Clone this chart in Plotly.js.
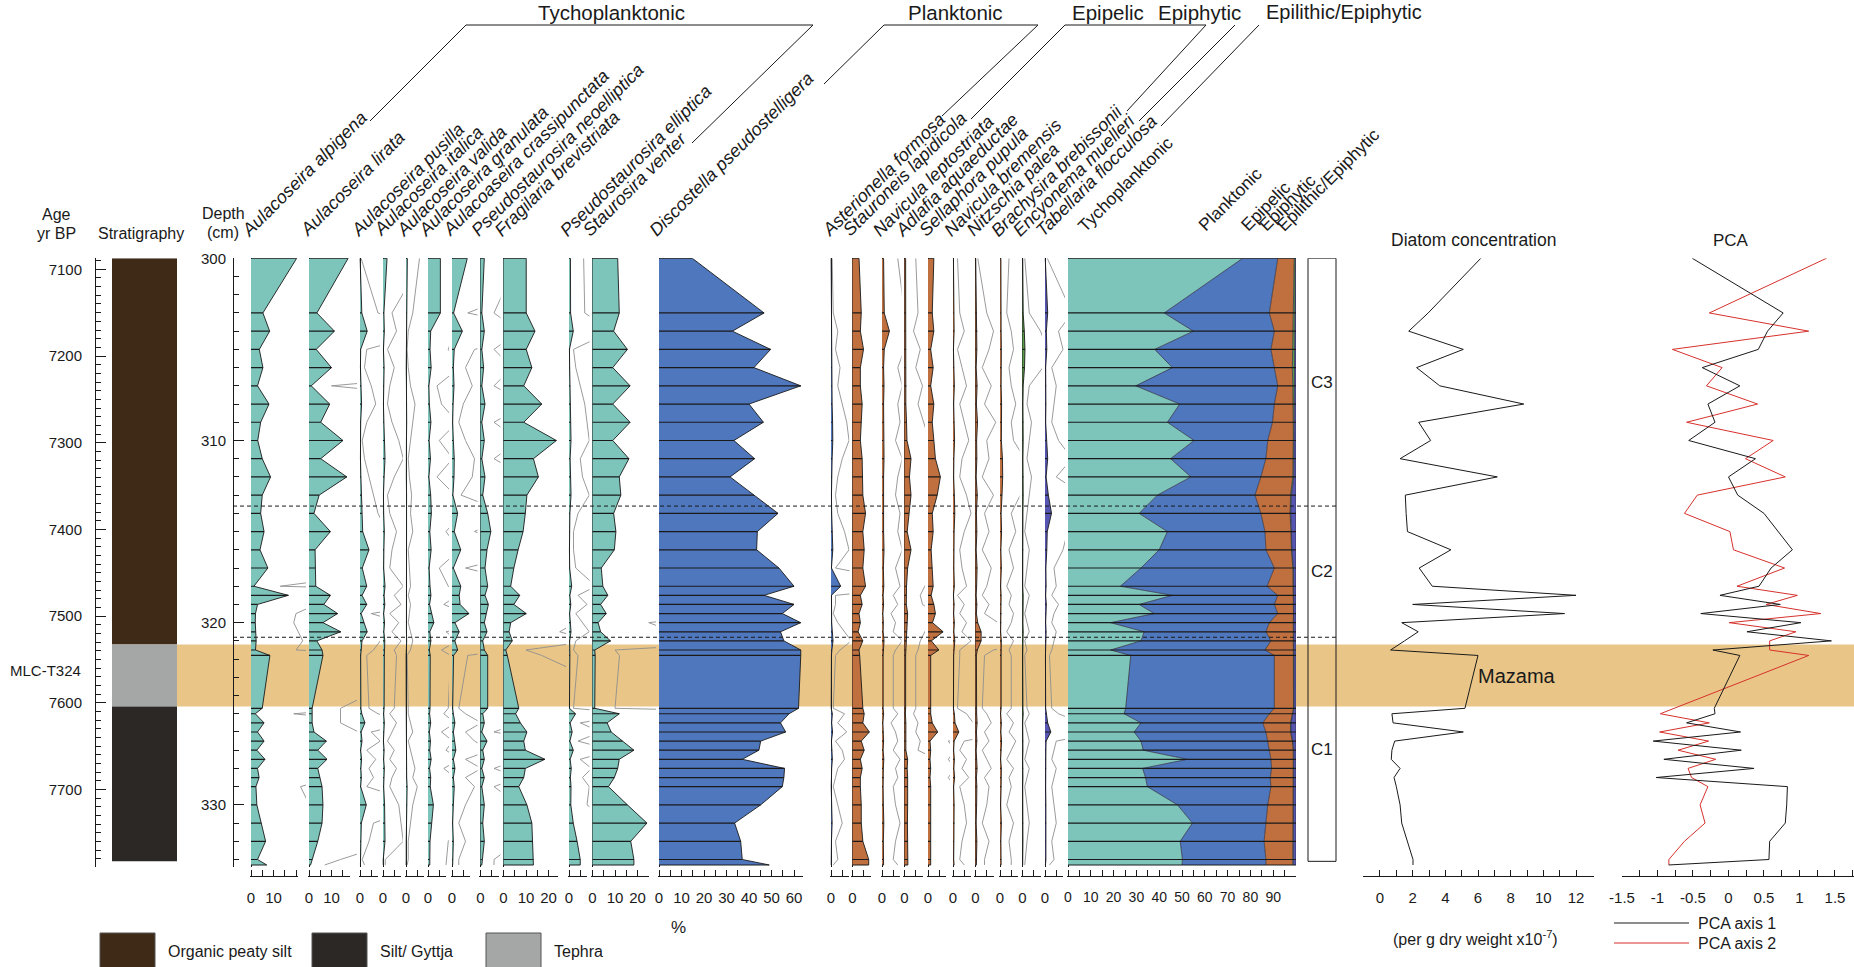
<!DOCTYPE html>
<html><head><meta charset="utf-8">
<script src="https://cdn.plot.ly/plotly-3.0.1.min.js"></script>
<style>html,body{margin:0;padding:0;background:#fff;}</style>
</head><body>
<div id="chart" style="width:1854px;height:967px"></div>
<script>
// ---------------- DATA ----------------
const depth = [300, 303, 304, 305, 306, 307, 308, 309, 310, 311,
  312, 313, 314, 315, 316, 317, 318, 318.5, 319, 319.5,
  320, 320.5, 321, 321.5, 321.8, 324.7, 325, 325.5, 326, 326.5,
  327, 327.5, 328, 328.5, 329, 330, 331, 332, 333, 333.3];

const alpigena = [20.3, 5.3, 8.3, 3.7, 5.3, 2.9, 8.0, 4.3, 3.0, 5.0, 8.7, 5.0, 4.3, 5.8, 4.0, 7.5, 1.3, 16.6, 2.9, 2.0, 1.9, 2.1, 2.3, 2.0, 8.4, 5.0, 1.9, 5.8, 2.9, 5.8, 2.6, 6.2, 2.9, 3.6, 2.2, 2.6, 4.6, 6.5, 2.9, 7.0];
const lirata = [17.4, 3.5, 11.3, 3.2, 10.0, 1.0, 9.2, 5.2, 15.1, 5.2, 16.8, 4.5, 2.2, 9.5, 2.7, 2.7, 3.0, 9.5, 6.6, 12.7, 6.2, 14.1, 3.5, 5.8, 6.2, 1.4, 1.4, 1.4, 2.2, 7.7, 3.9, 8.0, 3.9, 4.8, 5.8, 6.2, 5.8, 3.9, 1.4, 0.7];
const pusilla = [0.05, 0.8, 3.2, 0.3, 0.2, 0.5, 0.7, 0.3, 0.1, 0.2, 0.4, 0.6, 0.8, 1.2, 4.0, 1.0, 3.0, 0.9, 3.0, 0.5, 1.8, 3.2, 0.9, 0.6, 0.3, 0.4, 0.8, 2.2, 0.5, 0.9, 0.3, 0.7, 0.4, 0.6, 0.3, 2.8, 0.6, 0.4, 0.1, 0.2];
const italica = [1.8, 0.4, 0.6, 0.2, 0.5, 0.3, 0.2, 0.4, 0.7, 0.9, 0.5, 0.2, 0.3, 0.6, 0.4, 0.3, 0.9, 0.5, 0.8, 0.3, 0.7, 0.4, 0.8, 0.5, 0.6, 0.5, 0.3, 0.6, 0.4, 0.2, 0.5, 0.3, 0.6, 0.4, 0.3, 0.7, 0.8, 0.9, 0.1, 0.1];
const valida = [0.6, 0.3, 0.1, 0.05, 0.1, 0.2, 0.4, 0.3, 0.2, 0.1, 0.15, 0.25, 0.2, 0.3, 0.1, 0.15, 0.2, 0.1, 0.2, 0.15, 0.1, 0.2, 0.3, 0.2, 0.05, 0.1, 0.1, 0.2, 0.3, 0.1, 0.2, 0.3, 0.4, 0.3, 0.5, 0.3, 0.2, 0.1, 0.1, 0.05];
const granulata = [5.5, 5.5, 1.2, 0.9, 1.4, 0.4, 0.6, 1.3, 0.5, 1.1, 0.4, 1.2, 1.5, 0.8, 1.4, 0.5, 0.9, 1.3, 0.7, 1.5, 2.6, 0.8, 1.3, 0.6, 1.0, 0.9, 0.7, 1.2, 0.6, 1.1, 0.8, 1.4, 0.7, 1.2, 1.0, 2.4, 1.5, 0.9, 0.8, 0.8];
const crassipunctata = [6.8, 0.7, 4.6, 1.0, 0.6, 0.9, 0.5, 0.3, 0.6, 1.0, 0.9, 0.4, 2.5, 1.0, 3.9, 0.6, 3.9, 3.2, 3.6, 7.5, 1.3, 3.2, 1.3, 2.5, 0.7, 0.3, 0.6, 1.3, 0.6, 1.0, 1.7, 0.6, 1.3, 0.6, 1.0, 0.6, 0.3, 0.6, 0.3, 0.3];
const neoelliptica = [1.7, 0.6, 1.7, 0.6, 1.4, 0.6, 2.0, 0.6, 1.7, 0.6, 2.0, 1.0, 3.2, 4.6, 2.9, 2.0, 3.2, 2.0, 3.5, 2.5, 1.7, 2.9, 1.0, 1.7, 3.2, 3.2, 1.0, 1.7, 0.6, 2.9, 1.0, 1.7, 0.6, 1.7, 0.6, 1.7, 1.0, 1.7, 0.6, 0.6];
const brevistriata = [10.1, 10.1, 14.0, 10.1, 12.6, 9.0, 17.0, 9.0, 23.5, 13.3, 15.5, 10.4, 9.7, 8.7, 6.5, 4.6, 3.2, 7.2, 4.6, 10.1, 3.2, 2.5, 3.9, 1.0, 1.7, 6.8, 5.4, 7.5, 10.4, 9.0, 9.7, 18.4, 9.7, 9.0, 6.8, 10.4, 12.6, 13.0, 13.3, 13.3];
const elliptica = [0.65, 0.7, 1.9, 0.2, 0.3, 0.5, 0.7, 0.8, 0.9, 0.5, 0.6, 0.9, 0.4, 0.2, 0.2, 0.3, 1.2, 0.4, 0.8, 0.3, 0.6, 0.9, 0.3, 0.2, 0.4, 0.2, 2.9, 0.5, 1.4, 0.4, 1.9, 0.5, 1.0, 0.6, 0.9, 0.8, 1.9, 3.6, 5.0, 5.0];
const venter = [11.2, 11.9, 9.4, 15.5, 9.0, 16.7, 9.0, 16.7, 9.0, 16.2, 11.9, 12.6, 9.4, 10.4, 9.7, 3.9, 4.6, 6.8, 3.6, 6.1, 2.5, 3.6, 8.0, 1.0, 1.2, 1.0, 11.9, 6.5, 8.3, 13.3, 18.4, 11.9, 11.2, 9.7, 7.1, 15.5, 24.2, 17.0, 18.4, 18.4];
const discostella = [14.8, 46.7, 32.6, 49.6, 42.2, 63.0, 40.0, 46.4, 33.3, 42.5, 31.6, 42.2, 52.9, 43.7, 43.4, 53.3, 60.0, 46.7, 60.0, 54.8, 63.0, 54.0, 55.5, 63.0, 63.0, 62.0, 57.8, 54.0, 56.3, 45.2, 44.4, 37.0, 55.8, 55.5, 54.8, 45.2, 33.6, 36.3, 37.0, 49.0];
const asterionella = [0.05, 0.1, 0.3, 0.2, 0.4, 0.3, 0.5, 0.7, 0.8, 0.5, 0.3, 0.2, 0.3, 0.6, 0.8, 0.2, 4.3, 0.2, 0.2, 0.1, 0.3, 0.6, 0.9, 0.4, 0.2, 0.1, 0.6, 0.3, 0.7, 0.2, 0.5, 0.6, 0.3, 0.2, 0.1, 0.3, 0.5, 0.2, 0.3, 0.1];
const stauroneis = [2.9, 3.9, 3.5, 4.9, 3.5, 3.5, 4.3, 3.9, 3.5, 4.3, 4.6, 4.6, 5.8, 4.6, 5.2, 4.6, 5.8, 3.5, 4.3, 2.9, 3.5, 2.5, 4.6, 2.9, 3.2, 4.6, 5.2, 4.6, 7.5, 3.9, 5.2, 3.5, 4.3, 3.5, 3.5, 3.9, 3.9, 4.6, 7.2, 7.2];
const leptostriata = [0.7, 1.0, 3.3, 1.0, 0.7, 0.9, 0.7, 0.8, 0.6, 0.9, 0.7, 0.6, 0.8, 0.7, 0.9, 0.6, 0.8, 0.5, 0.7, 0.4, 0.6, 0.5, 0.9, 0.6, 0.5, 0.5, 0.7, 0.4, 0.6, 0.7, 0.5, 0.8, 0.6, 0.7, 0.5, 0.6, 0.8, 0.6, 0.5, 0.7];
const adlafia = [0.5, 0.6, 0.4, 0.7, 0.5, 0.8, 0.6, 0.9, 1.1, 2.9, 2.2, 2.9, 1.9, 1.2, 2.9, 1.4, 0.9, 0.7, 0.8, 1.4, 1.2, 0.9, 0.7, 0.6, 0.5, 0.5, 0.4, 0.6, 0.5, 0.7, 0.6, 1.4, 1.2, 1.4, 1.3, 1.4, 1.3, 1.4, 1.5, 1.5];
const sellaphora = [2.6, 1.9, 2.6, 1.2, 2.3, 1.2, 2.6, 1.9, 2.6, 3.3, 5.5, 4.1, 1.9, 2.3, 1.4, 1.9, 2.3, 1.4, 2.6, 3.3, 2.0, 6.7, 1.5, 4.8, 1.2, 1.2, 1.2, 1.9, 4.3, 0.9, 1.2, 0.9, 1.2, 0.9, 1.2, 1.2, 1.2, 1.2, 1.2, 1.2];
const bremensis = [0.2, 0.3, 0.5, 0.2, 0.4, 0.6, 0.3, 0.5, 0.7, 0.4, 0.3, 0.6, 0.8, 0.5, 0.3, 0.4, 0.6, 0.2, 0.5, 0.3, 0.6, 0.4, 0.8, 0.3, 0.3, 0.2, 0.6, 0.9, 2.6, 0.5, 0.3, 0.6, 0.4, 0.7, 0.3, 0.5, 0.6, 0.4, 0.3, 0.5];
const palea = [0.1, 0.5, 0.8, 0.6, 0.3, 0.7, 0.4, 0.9, 0.5, 0.6, 0.3, 0.8, 0.4, 0.6, 0.3, 0.7, 0.5, 0.3, 0.6, 0.4, 1.0, 2.5, 2.5, 0.8, 0.4, 0.3, 0.5, 0.7, 0.4, 0.6, 0.3, 0.5, 0.7, 0.4, 0.6, 0.5, 0.3, 0.6, 0.4, 0.4];
const brachysira = [0.4, 0.3, 0.5, 0.6, 0.4, 0.5, 0.7, 0.5, 0.6, 1.1, 1.2, 0.9, 0.5, 0.7, 0.4, 0.6, 0.3, 0.5, 0.4, 0.6, 0.5, 0.3, 0.6, 0.4, 0.5, 0.5, 0.3, 0.6, 0.4, 0.7, 0.5, 0.3, 0.6, 0.4, 0.5, 0.3, 0.6, 0.4, 0.5, 0.5];
const encyonema = [0.1, 0.3, 0.8, 1.1, 0.9, 0.3, 0.2, 0.4, 0.3, 0.2, 0.4, 0.3, 0.2, 0.1, 0.3, 0.2, 0.1, 0.3, 0.2, 0.1, 0.2, 0.3, 0.1, 0.2, 0.1, 0.2, 0.3, 0.1, 0.2, 0.3, 0.2, 0.1, 0.3, 0.2, 0.1, 0.2, 0.3, 0.2, 0.1, 0.1];
const tabellaria = [0.1, 1.2, 0.6, 0.8, 0.3, 0.5, 0.4, 0.3, 0.6, 1.2, 0.5, 1.5, 2.9, 1.0, 0.8, 0.4, 0.5, 0.3, 0.6, 0.4, 0.3, 0.5, 0.4, 0.3, 0.2, 0.3, 0.6, 1.2, 2.6, 0.5, 0.4, 0.3, 0.5, 0.4, 0.3, 0.4, 0.5, 0.3, 0.4, 0.2];

// ecological groups (%)
const tycho = [76.6, 42.2, 55.0, 38.0, 45.8, 29.7, 49.0, 43.6, 55.3, 45.0, 53.9, 39.2, 31.2, 43.6, 40.0, 32.0, 23.0, 45.8, 31.2, 37.8, 18.7, 33.4, 32.0, 18.7, 27.5, 25.3, 24.6, 32.0, 29.0, 32.0, 33.0, 52.4, 32.7, 34.0, 34.8, 48.0, 54.6, 49.2, 50.2, 50.0];
const plank = [15.4, 46.1, 35.5, 51.0, 44.7, 62.3, 41.5, 46.1, 32.3, 41.8, 30.7, 42.8, 53.4, 42.8, 46.8, 58.5, 64.3, 46.2, 59.3, 54.2, 69.6, 53.4, 57.0, 67.7, 63.0, 65.2, 63.7, 53.4, 57.8, 55.6, 55.3, 36.6, 56.6, 54.7, 54.2, 39.6, 32.2, 36.8, 36.6, 36.8];
const epipelic = [7.2, 10.6, 8.1, 9.4, 7.9, 6.6, 8.3, 9.1, 11.2, 11.8, 14.0, 15.6, 12.8, 11.4, 11.2, 8.1, 11.5, 6.8, 8.3, 6.9, 10.5, 12.0, 9.8, 12.4, 8.4, 8.4, 10.1, 12.2, 10.8, 10.8, 10.5, 9.8, 9.5, 10.1, 9.8, 11.2, 12.0, 12.6, 11.8, 11.8];
const epiphytic = [0.5, 0.6, 0.9, 1.1, 1.0, 0.8, 0.6, 0.5, 0.5, 0.6, 0.4, 0.4, 0.3, 0.2, 0.2, 0.3, 0.2, 0.2, 0.2, 0.2, 0.2, 0.2, 0.2, 0.2, 0.2, 0.2, 0.2, 0.2, 0.2, 0.2, 0.2, 0.2, 0.2, 0.2, 0.2, 0.2, 0.2, 0.2, 0.2, 0.2];
const epilithic = [0.3, 0.5, 0.5, 0.5, 0.6, 0.6, 0.6, 0.7, 0.7, 0.8, 1.0, 2.0, 2.3, 2.0, 1.8, 1.1, 1.0, 1.0, 1.0, 0.9, 1.0, 1.0, 1.0, 1.0, 0.9, 0.9, 1.4, 2.2, 2.2, 1.4, 1.0, 1.0, 1.0, 1.0, 1.0, 1.0, 1.0, 1.2, 1.2, 1.2];

// diatom concentration (per g dry weight x10^-7) and PCA scores
const conc = [6.17, 2.95, 1.76, 5.1, 2.24, 3.66, 8.8, 2.37, 3.1, 1.23, 7.18, 1.55, 1.6, 1.68, 4.34, 2.4, 3.2, 12.0, 2.0, 11.3, 1.33, 2.34, 1.5, 0.65, 6.0, 5.2, 0.73, 0.8, 5.1, 0.9, 0.73, 0.69, 1.23, 0.86, 1.0, 1.23, 1.33, 1.66, 2.02, 2.02];
const pca1 = [-0.51, 0.77, 0.55, 0.42, -0.37, 0.16, -0.29, -0.19, -0.56, 0.38, 0.0, 0.13, 0.5, 0.7, 0.9, 0.6, 0.43, -0.12, 0.73, -0.39, 1.02, 0.26, 1.45, -0.22, 0.16, -0.2, -0.19, -0.59, 0.17, -1.06, 0.18, -0.91, 0.36, -1.02, 0.83, 0.82, 0.8, 0.58, 0.57, -0.84];
const pca2 = [1.38, -0.27, 1.13, -0.79, -0.09, -0.31, 0.41, -0.59, 0.63, 0.24, 0.8, -0.44, -0.62, 0.02, 0.07, 0.79, 0.12, 0.97, 0.53, 1.3, 0.01, 0.95, 0.58, 0.58, 1.13, -0.79, -0.96, -0.27, -0.97, -0.28, -0.71, -0.18, -0.57, -0.52, -0.29, -0.4, -0.33, -0.62, -0.84, -0.84];

// stratigraphy, tephra, zones
const stratNames = ['Organic peaty silt', 'Tephra', 'Silt/ Gyttja'];
const stratTop = [300, 321.2, 324.6];
const stratBase = [321.2, 324.6, 333.1];
const stratColors = ['#3e2a16', '#a5a7a7', '#2b2826'];
const tephra = [321.2, 324.6];
const tephraName = 'Mazama';
const tephraSample = 'MLC-T324';
const zoneNames = ['C3', 'C2', 'C1'];
const zoneBounds = [300, 313.6, 320.8, 333.1];
const pcaTickVals = [-1.5, -1.25, -1, -0.75, -0.5, -0.25, 0, 0.25, 0.5, 0.75, 1, 1.25, 1.5, 1.75];
const pcaTickText = ['-1.5', '', '-1', '', '-0.5', '', '0', '', '0.5', '', '1', '', '1.5', ''];
const groupNames = ['Tychoplanktonic', 'Planktonic', 'Epipelic', 'Epiphytic', 'Epilithic/Epiphytic'];

// ---------------- STYLE / LAYOUT ----------------
const W = 1854, H = 967;
const PX = x => x / W, PY = y => 1 - y / H;
const FONT = 'Liberation Sans, Arial, Helvetica, sans-serif';
const INK = '#1a1a1a';
const TEAL = '#7dc4bb', BLUE = '#4f77be', BROWN = '#c0703e', GREEN = '#5a9b48', PURPLE = '#5656b2';
const K = 2.25, KC = 2.28;   // px per percent
const AXIS_Y = PY(876);
const EXAG = 10;

const panels = [
  {name: 'Aulacoseira alpigena', data: alpigena, color: TEAL, zero: 251, vmax: 21, tv: [0,5,10,15,20], tt: ['0','','10','','']},
  {name: 'Aulacoseira lirata', data: lirata, color: TEAL, zero: 309, vmax: 18, tv: [0,5,10,15], tt: ['0','','10','']},
  {name: 'Aulacoseira pusilla', data: pusilla, color: TEAL, zero: 360, vmax: 8},
  {name: 'Aulacoseira italica', data: italica, color: TEAL, zero: 383, vmax: 8},
  {name: 'Aulacoseira valida', data: valida, color: TEAL, zero: 406, vmax: 8},
  {name: 'Aulacoseira granulata', data: granulata, color: TEAL, zero: 428, vmax: 8},
  {name: 'Aulacoaseira crassipunctata', data: crassipunctata, color: TEAL, zero: 452, vmax: 8},
  {name: 'Pseudostaurosira neoelliptica', data: neoelliptica, color: TEAL, zero: 480.5, vmax: 8},
  {name: 'Fragilaria brevistriata', data: brevistriata, color: TEAL, zero: 503.5, vmax: 24, tv: [0,5,10,15,20], tt: ['0','','10','','20']},
  {name: 'Pseudostaurosira elliptica', data: elliptica, color: TEAL, zero: 569, vmax: 8},
  {name: 'Staurosira venter', data: venter, color: TEAL, zero: 592.5, vmax: 25, tv: [0,5,10,15,20,25], tt: ['0','','10','','20','']},
  {name: 'Discostella pseudostelligera', data: discostella, color: BLUE, zero: 659, vmax: 64, tv: [0,5,10,15,20,25,30,35,40,45,50,55,60], tt: ['0','','10','','20','','30','','40','','50','','60']},
  {name: 'Asterionella formosa', data: asterionella, color: BLUE, zero: 831, vmax: 8},
  {name: 'Stauroneis lapidicola', data: stauroneis, color: BROWN, zero: 852.5, vmax: 8},
  {name: 'Navicula leptostriata', data: leptostriata, color: BROWN, zero: 882, vmax: 8},
  {name: 'Adlafia aquaeductae', data: adlafia, color: BROWN, zero: 904.5, vmax: 8},
  {name: 'Sellaphora pupula', data: sellaphora, color: BROWN, zero: 928, vmax: 8},
  {name: 'Navicula bremensis', data: bremensis, color: BROWN, zero: 953, vmax: 8},
  {name: 'Nitzschia palea', data: palea, color: BROWN, zero: 975.5, vmax: 8},
  {name: 'Brachysira brebissonii', data: brachysira, color: BROWN, zero: 1000, vmax: 8},
  {name: 'Encyonema muelleri', data: encyonema, color: GREEN, zero: 1022.5, vmax: 8},
  {name: 'Tabellaria flocculosa', data: tabellaria, color: PURPLE, zero: 1045, vmax: 8}
];
const CUM_ZERO = 1068;

const layout = {
  width: W, height: H, margin: {l: 0, r: 0, t: 0, b: 0},
  paper_bgcolor: '#ffffff', plot_bgcolor: 'rgba(0,0,0,0)',
  showlegend: false, hovermode: false, barmode: 'overlay',
  font: {family: FONT, size: 15, color: INK},
  shapes: [], annotations: []
};
const traces = [];
let axN = 0;
function newX(opts) {
  axN++;
  layout[axN === 1 ? 'xaxis' : 'xaxis' + axN] = Object.assign({anchor: 'y', showgrid: false, zeroline: false, fixedrange: true}, opts);
  return axN === 1 ? 'x' : 'x' + axN;
}
function tickAxis(domain, range, tv, tt, extra) {
  return Object.assign({
    domain, range, anchor: 'free', position: AXIS_Y,
    showline: true, linecolor: INK, linewidth: 1,
    ticks: 'inside', ticklen: 6, tickwidth: 1, tickcolor: INK,
    tickmode: 'array', tickvals: tv, ticktext: tt,
    tickfont: {size: 15, family: FONT}, ticklabelstandoff: 8,
    zeroline: true, zerolinecolor: INK, zerolinewidth: 1, showgrid: false
  }, extra || {});
}
// horizontal sample lines from 0 to the value, drawn as error bars above the fills
function sampleLines(vals, xa) {
  return {type: 'scatter', mode: 'markers', x: vals, y: depth, xaxis: xa, yaxis: 'y',
    marker: {size: 1, opacity: 0},
    error_x: {type: 'data', symmetric: false, array: vals.map(() => 0), arrayminus: vals, width: 0, thickness: 1.2, color: INK}};
}

// depth axis and age axis
layout.yaxis = {
  domain: [PY(866.8), PY(258.3)], range: [333.4, 300], anchor: 'free', position: PX(233), side: 'left',
  showline: true, linecolor: INK, linewidth: 1, ticks: 'inside', ticklen: 10, tickcolor: INK,
  tickmode: 'linear', tick0: 300, dtick: 10,
  minor: {ticks: 'inside', ticklen: 5, dtick: 1, tickcolor: INK},
  showgrid: false, zeroline: false, tickfont: {size: 15}, ticklabelstandoff: 4, fixedrange: true
};
layout.yaxis2 = {
  overlaying: 'y', anchor: 'free', position: PX(95), side: 'left', range: [7789.2, 7087.3],
  showline: true, linecolor: INK, linewidth: 1, ticks: 'inside', ticklen: 10, tickcolor: INK,
  tickmode: 'linear', tick0: 7100, dtick: 100,
  minor: {ticks: 'inside', ticklen: 5, dtick: 10, tickcolor: INK},
  showgrid: false, zeroline: false, tickfont: {size: 15}, ticklabelstandoff: 10, fixedrange: true
};

// stratigraphy column
const xs = newX({domain: [PX(112), PX(177)], type: 'category', range: [-0.5, 0.5], visible: false});
traces.push({type: 'bar', x: stratNames.map(() => 'core'), y: stratTop.map((t, i) => stratBase[i] - t), base: stratTop,
  width: 1, marker: {color: stratColors, line: {width: 0}}, xaxis: xs, yaxis: 'y'});
traces.push({type: 'scatter', x: ['core'], y: [7400], xaxis: xs, yaxis: 'y2', mode: 'markers', marker: {opacity: 0}});

// species panels
panels.forEach((p, i) => {
  const next = i + 1 < panels.length ? panels[i + 1].zero : CUM_ZERO;
  const ext = (next - 3 - p.zero) / K;
  const xg = newX({domain: [PX(p.zero - 0.6 * K), PX(next - 3)], range: [-0.6, ext], visible: false});
  traces.push({type: 'scatter', mode: 'lines', x: p.data.map(v => v * EXAG), y: depth, xaxis: xg, yaxis: 'y',
    line: {color: '#8e8e8e', width: 0.9}});
  const tv = p.tv || [0, 5], tt = p.tt || ['0', ''];
  const xh = newX(tickAxis([PX(p.zero - 0.6 * K), PX(p.zero + p.vmax * K)], [-0.6, p.vmax], tv, tt));
  traces.push({type: 'scatter', mode: 'lines', x: p.data, y: depth, xaxis: xh, yaxis: 'y', fill: 'tozerox',
    fillcolor: p.color, line: {color: INK, width: 0.9}});
  traces.push(sampleLines(p.data, xh));
  layout.annotations.push({text: '<i>' + p.name + '</i>', xref: 'paper', yref: 'paper',
    x: PX(p.zero - 16), y: PY(243), xanchor: 'left', yanchor: 'bottom', textangle: -45, showarrow: false,
    font: {size: 18, family: FONT, color: INK}});
});

// cumulative ecological groups
const groups = [tycho, plank, epipelic, epiphytic, epilithic];
const groupColors = [TEAL, BLUE, BROWN, GREEN, PURPLE];
const cum = [];
groups.forEach((g, gi) => cum.push(g.map((v, j) => v + (gi ? cum[gi - 1][j] : 0))));
const cumTv = [], cumTt = [];
for (let v = 0; v <= 95; v += 5) { cumTv.push(v); cumTt.push(v % 10 === 0 ? String(v) : ''); }
const xc = newX(tickAxis([PX(CUM_ZERO - 0.6 * KC), PX(CUM_ZERO + 100 * KC)], [-0.6, 100], cumTv, cumTt, {tickfont: {size: 14, family: FONT}}));
cum.forEach((c, gi) => traces.push({type: 'scatter', mode: 'lines', x: c, y: depth, xaxis: xc, yaxis: 'y',
  fill: gi === 0 ? 'tozerox' : 'tonextx', fillcolor: groupColors[gi], line: {color: '#2a2a3a', width: 0.7}, name: groupNames[gi]}));
traces.push(sampleLines(cum[cum.length - 1], xc));

// diatom concentration
const xd = newX(tickAxis([PX(1363), PX(1594)], [-1.04, 13.1], [0,1,2,3,4,5,6,7,8,9,10,11,12], ['0','','2','','4','','6','','8','','10','','12'], {zeroline: false}));
traces.push({type: 'scatter', mode: 'lines', x: conc, y: depth, xaxis: xd, yaxis: 'y', line: {color: INK, width: 1}});

// PCA
const xp = newX(tickAxis([PX(1622), PX(1854)], [-1.5, 1.768], pcaTickVals, pcaTickText, {zeroline: false}));
traces.push({type: 'scatter', mode: 'lines', x: pca2, y: depth, xaxis: xp, yaxis: 'y', line: {color: '#d6312b', width: 1}, name: 'PCA axis 2'});
traces.push({type: 'scatter', mode: 'lines', x: pca1, y: depth, xaxis: xp, yaxis: 'y', line: {color: INK, width: 1}, name: 'PCA axis 1'});

// ---------------- SHAPES ----------------
const S = layout.shapes;
function pline(x0, y0, x1, y1, extra) {
  S.push(Object.assign({type: 'line', xref: 'paper', yref: 'paper', x0: PX(x0), y0: PY(y0), x1: PX(x1), y1: PY(y1), line: {color: INK, width: 1}}, extra || {}));
}
// tephra band
S.push({type: 'rect', xref: 'paper', yref: 'y', x0: PX(177), x1: 1, y0: tephra[0], y1: tephra[1], fillcolor: '#e9c688', line: {width: 0}, layer: 'below'});
// zone box, zone boundaries
S.push({type: 'rect', xref: 'paper', yref: 'y', x0: PX(1308), x1: PX(1336), y0: zoneBounds[0], y1: zoneBounds[zoneBounds.length - 1], line: {color: INK, width: 1}});
zoneBounds.slice(1, -1).forEach(b => S.push({type: 'line', xref: 'paper', yref: 'y', x0: PX(233), x1: PX(1336), y0: b, y1: b, line: {color: INK, width: 1, dash: '4px,3px'}}));
zoneNames.forEach((z, i) => layout.annotations.push({text: z, xref: 'paper', yref: 'y', x: PX(1322), y: (zoneBounds[i] + zoneBounds[i + 1]) / 2,
  showarrow: false, font: {size: 17}, xanchor: 'center', yanchor: 'middle'}));

// group brackets
pline(466, 25, 813, 25); pline(466, 25, 370, 121); pline(813, 25, 692, 143);
pline(884, 25, 1038, 25); pline(884, 25, 824, 84); pline(1038, 25, 942, 116);
pline(1065, 25, 1206, 25); pline(1065, 25, 971, 119); pline(1206, 25, 1127, 111);
pline(1235, 25, 1139, 121);
pline(1259, 25, 1161, 126);

// PCA legend
pline(1614, 923, 1689, 923);
pline(1614, 943, 1689, 943, {line: {color: '#d6312b', width: 1}});
// strat legend swatches
const swX = [100, 312, 486];
const legendOrder = [0, 2, 1];
legendOrder.forEach((si, k) => S.push({type: 'rect', xref: 'paper', yref: 'paper', x0: PX(swX[k]), x1: PX(swX[k] + 55), y0: PY(933), y1: PY(970),
  fillcolor: stratColors[si], line: {color: '#555', width: 1}}));

// ---------------- TEXT ----------------
function ann(text, x, y, o) {
  layout.annotations.push(Object.assign({text, xref: 'paper', yref: 'paper', x: PX(x), y: PY(y), showarrow: false,
    xanchor: 'center', yanchor: 'middle', font: {size: 17, family: FONT, color: INK}}, o || {}));
}
ann(groupNames[0], 611, 12, {font: {size: 20.5}});
ann(groupNames[1], 955, 12, {font: {size: 20.5}});
ann(groupNames[2], 1108, 12, {font: {size: 20.5}});
ann(groupNames[3], 1199, 12, {font: {size: 20.5}});
ann(groupNames[4], 1344, 12, {font: {size: 20}});
const cumLabelX = [1085, 1206, 1248, 1266, 1284];
groupNames.forEach((g, i) => ann(g, cumLabelX[i] - 14, 238, {xanchor: 'left', yanchor: 'bottom', textangle: -45, font: {size: 17.5}}));

ann('Age', 56, 215, {font: {size: 16}});
ann('yr BP', 56, 233, {font: {size: 16}});
ann('Stratigraphy', 141, 233, {font: {size: 16}});
ann('Depth', 223, 214, {font: {size: 16}});
ann('(cm)', 223, 232, {font: {size: 16}});
ann('Diatom concentration', 1473, 240, {font: {size: 17.5}});
ann('PCA', 1731, 240, {font: {size: 17}});
ann('%', 678, 927, {font: {size: 17}});
ann('(per g dry weight x10<sup>-7</sup>)', 1475, 938, {font: {size: 16}});
ann('PCA axis 1', 1696, 923, {xanchor: 'left', font: {size: 16}});
ann('PCA axis 2', 1696, 943, {xanchor: 'left', font: {size: 16}});
const legTextX = [166, 378, 552];
legendOrder.forEach((si, k) => ann(stratNames[si], legTextX[k], 951, {xanchor: 'left', font: {size: 16}}));
layout.annotations.push({text: tephraName, xref: 'paper', yref: 'y', x: PX(1517), y: (tephra[0] + tephra[1]) / 2,
  showarrow: false, font: {size: 20, family: FONT, color: INK}, xanchor: 'center', yanchor: 'middle'});
layout.annotations.push({text: tephraSample, xref: 'paper', yref: 'y', x: PX(83), y: (tephra[0] + tephra[1]) / 2 - 0.25,
  showarrow: false, font: {size: 15, family: FONT, color: INK}, xanchor: 'right', yanchor: 'middle'});

Plotly.newPlot('chart', traces, layout, {staticPlot: true, displayModeBar: false});
</script>
</body></html>
